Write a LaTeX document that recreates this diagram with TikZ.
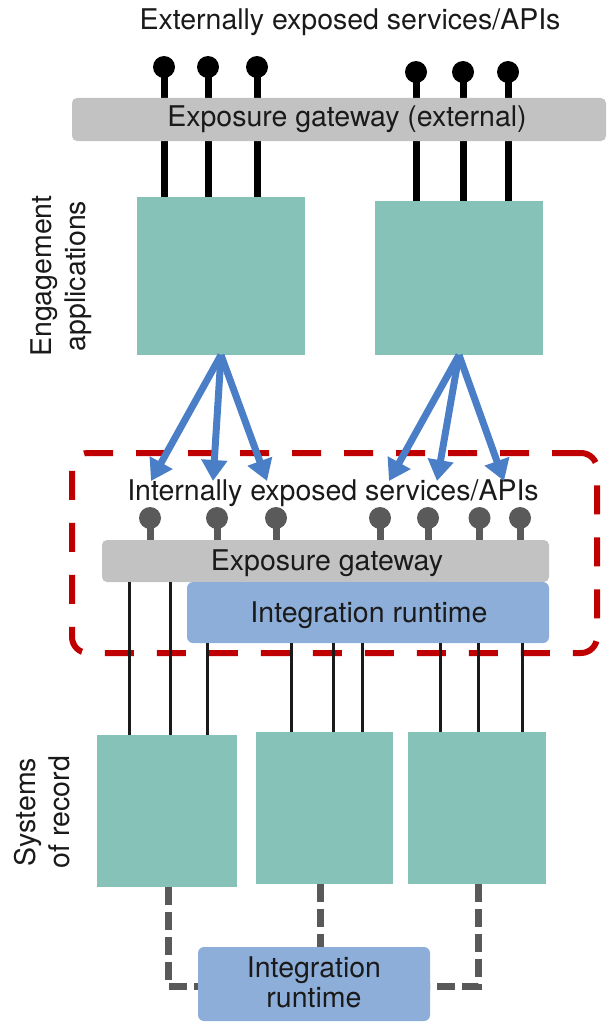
\documentclass[tikz,border=0pt]{standalone}
\usepackage{fontspec}
\setmainfont{TeX Gyre Heros}
\usetikzlibrary{arrows.meta}
\definecolor{tealfill}{HTML}{87C2B9}
\definecolor{gwgray}{HTML}{C2C2C2}
\definecolor{irblue}{HTML}{8EAEDA}
\definecolor{arrowblue}{HTML}{4A7EC6}
\definecolor{framered}{HTML}{C00000}
\definecolor{pingray}{HTML}{5A5A5A}
\definecolor{dashgray}{HTML}{595959}
\definecolor{txt}{HTML}{1A1A1A}
\pgfdeclarelayer{bg}
\pgfsetlayers{bg,main}
\begin{document}
\begin{tikzpicture}[x=1pt,y=-1pt,
  every node/.style={inner sep=0pt, outer sep=0pt},
  lbl/.style={text=txt, font=\fontsize{28.5}{34}\selectfont},
  tealbox/.style={fill=tealfill, anchor=north west},
  gwbox/.style={fill=gwgray, rounded corners=5pt, anchor=north west},
  irbox/.style={fill=irblue, rounded corners=6pt, anchor=north west},
  extpin/.style={circle, fill=black, minimum size=22pt},
  intpin/.style={circle, fill=pingray, minimum size=22pt},
  extstem/.style={line width=7pt, black},
  intstem/.style={line width=7pt, pingray},
  thinline/.style={line width=3pt, txt},
  fanarrow/.style={line width=7pt, arrowblue, -{Triangle[width=25pt,length=21pt]}},
  dashlink/.style={line width=7pt, dashgray, dash pattern=on 18pt off 7pt},
  redframe/.style={draw=framered, line width=6pt, rounded corners=16pt, dash pattern=on 29pt off 23pt}
]
\useasboundingbox (0,0) rectangle (608,1022);

% title
\node[lbl, anchor=base] (title) at (350,30) {Externally exposed services/APIs};

% external gateway
\node[gwbox, minimum width=534pt, minimum height=43pt] (gwext) at (72,98) {};
\node[lbl, anchor=base] (gwextlbl) at (347,127) {Exposure gateway (external)};

% engagement applications
\node[tealbox, minimum width=168pt, minimum height=158pt] (eng1) at (137,197) {};
\node[tealbox, minimum width=168pt, minimum height=154pt] (eng2) at (375,201) {};
\node[lbl, rotate=90, align=center] (englbl) at (61,276) {Engagement\\applications};

% external pins
\node[extpin] (e1) at (164,67) {};
\node[extpin] (e2) at (208,67) {};
\node[extpin] (e3) at (257,67) {};
\node[extpin] (e4) at (416,72) {};
\node[extpin] (e5) at (463,72) {};
\node[extpin] (e6) at (508,72) {};
\begin{pgfonlayer}{bg}
\foreach \p in {e1,e2,e3} \draw[extstem] (\p.center) -- (\p |- eng1.north);
\foreach \p in {e4,e5,e6} \draw[extstem] (\p.center) -- (\p |- eng2.north);
\end{pgfonlayer}

% internal zone frame
\node[redframe, minimum width=525pt, minimum height=200pt, anchor=north west] (zone) at (72,453) {};

% internal gateway and runtime
\node[gwbox, minimum width=447pt, minimum height=42pt] (gwint) at (102,540) {};
\node[lbl, anchor=base] (gwintlbl) at (327,570) {Exposure gateway};
\node[irbox, minimum width=362pt, minimum height=61pt] (irint) at (187,582) {};
\node[lbl, anchor=base] (irintlbl) at (369,622) {Integration runtime};

\node[lbl, anchor=base] (intlbl) at (333,500) {Internally exposed services/APIs};

% internal pins
\node[intpin] (i1) at (150,518) {};
\node[intpin] (i2) at (217,518) {};
\node[intpin] (i3) at (276,518) {};
\node[intpin] (i4) at (380,518) {};
\node[intpin] (i5) at (428,518) {};
\node[intpin] (i6) at (479.5,518) {};
\node[intpin] (i7) at (520,518) {};
\begin{pgfonlayer}{bg}
\foreach \p in {i1,i2,i3,i4,i5,i6,i7} \draw[intstem] (\p.center) -- (\p |- gwint.north);
\end{pgfonlayer}

% fan arrows
\coordinate (t1) at (151,481);
\coordinate (t2) at (213,481);
\coordinate (t3) at (267,481);
\coordinate (t4) at (389,481);
\coordinate (t5) at (437,481);
\coordinate (t6) at (504,481);
\foreach \t in {t1,t2,t3} \draw[fanarrow] (eng1.south) -- (\t);
\foreach \t in {t4,t5,t6} \draw[fanarrow] (eng2.south) -- (\t);

% systems of record
\node[tealbox, minimum width=140pt, minimum height=152pt] (sys1) at (97,735) {};
\node[tealbox, minimum width=137pt, minimum height=152pt] (sys2) at (256,732) {};
\node[tealbox, minimum width=138pt, minimum height=152pt] (sys3) at (408,732) {};
\node[lbl, rotate=90, align=center] (syslbl) at (42,812) {Systems\\of record};

% thin connectors
\coordinate (l1) at (129.5,0);
\coordinate (l2) at (170,0);
\coordinate (l3) at (207,0);
\coordinate (l4) at (291.5,0);
\coordinate (l5) at (333,0);
\coordinate (l6) at (362.5,0);
\coordinate (l7) at (440,0);
\coordinate (l8) at (478,0);
\coordinate (l9) at (522,0);
\draw[thinline] (l1 |- gwint.south) -- (l1 |- sys1.north);
\draw[thinline] (l2 |- gwint.south) -- (l2 |- sys1.north);
\draw[thinline] (l3 |- irint.south) -- (l3 |- sys1.north);
\draw[thinline] (l4 |- irint.south) -- (l4 |- sys2.north);
\draw[thinline] (l5 |- irint.south) -- (l5 |- sys2.north);
\draw[thinline] (l6 |- irint.south) -- (l6 |- sys2.north);
\draw[thinline] (l7 |- irint.south) -- (l7 |- sys3.north);
\draw[thinline] (l8 |- irint.south) -- (l8 |- sys3.north);
\draw[thinline] (l9 |- irint.south) -- (l9 |- sys3.north);

% bottom integration runtime
\node[irbox, minimum width=232pt, minimum height=74pt] (irbot) at (198,947) {};
\node[lbl, align=center, font=\fontsize{28.5}{30}\selectfont, anchor=base] (irbotlbl) at (314,1007) {Integration\\runtime};

\coordinate (d1) at (168,986);
\coordinate (d2) at (320,0);
\coordinate (d3) at (478,986);
\draw[dashlink] (d1 |- sys1.south) -- (d1) -- (d1 -| irbot.west);
\draw[dashlink] (d2 |- sys2.south) -- (d2 |- irbot.north);
\draw[dashlink] (d3 |- sys3.south) -- (d3) -- (d3 -| irbot.east);
\end{tikzpicture}
\end{document}
